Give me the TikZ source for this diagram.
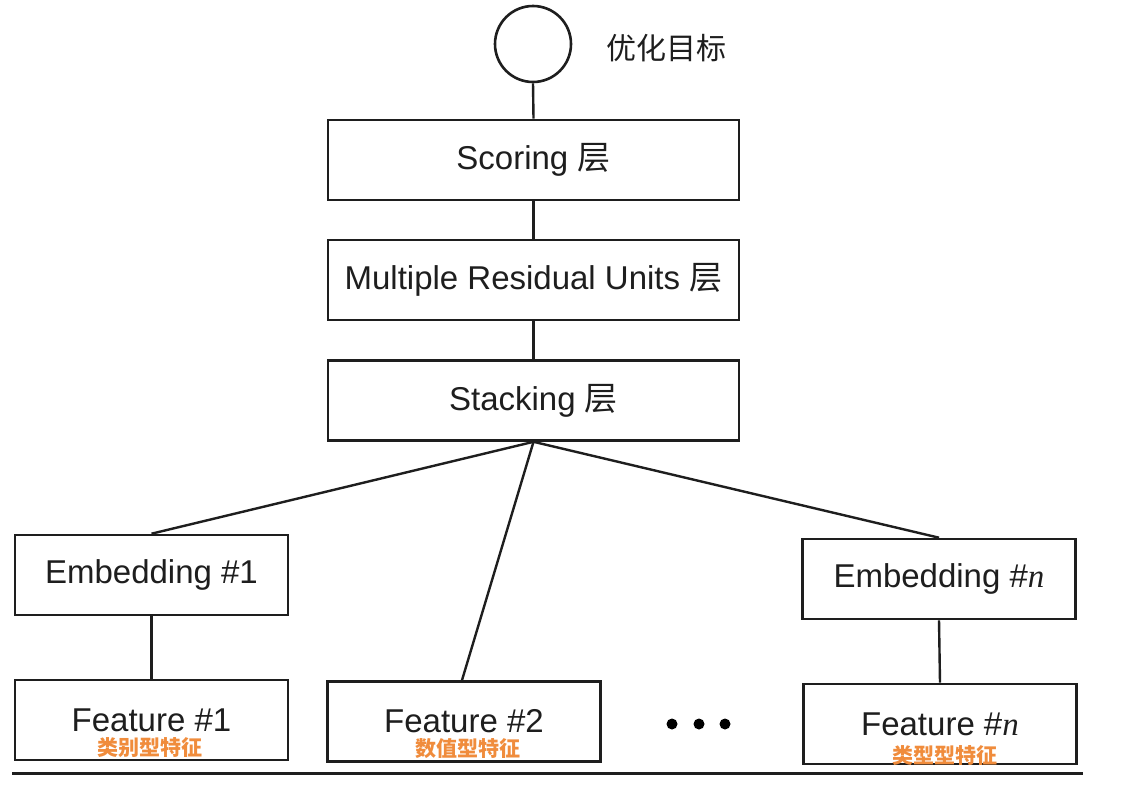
\documentclass[tikz,border=0pt]{standalone}
\usepackage{fontspec}
\setmainfont{Liberation Sans}
\newfontfamily\cjk{Noto Sans CJK SC}
\newfontfamily\serifit{Liberation Serif}
\definecolor{labelorange}{RGB}{240,140,60}
\definecolor{inkline}{RGB}{30,30,30}
\begin{document}
\begin{tikzpicture}[x=1pt,y=-1pt,
  layerbox/.style={draw=inkline,line width=2.6pt,minimum width=411pt,minimum height=80pt,inner sep=0pt,font=\fontsize{33}{38}\selectfont,text=inkline},
  featbox/.style={draw=inkline,line width=2.6pt,minimum width=273pt,minimum height=80pt,inner sep=0pt,font=\fontsize{33}{38}\selectfont,text=inkline},
  conn/.style={draw=inkline,line width=2.4pt},
  tag/.style={text=labelorange,font=\cjk\bfseries\fontsize{21}{24}\selectfont,inner sep=0pt},
  dot/.style={circle,fill=black,inner sep=0pt,minimum size=11pt}]
\useasboundingbox (0,0) rectangle (1126,790);
\fill[white] (0,0) rectangle (1126,790);
% target
\node[draw=inkline,line width=2.6pt,circle,minimum size=76pt,inner sep=0pt] (goal) at (533,44) {};
\node[font=\cjk\fontsize{30}{34}\selectfont,text=inkline] (goallab) at (666,48) {优化目标};
% stacked layers
\node[layerbox] (score) at (533.5,160) {Scoring {\cjk 层}};
\node[layerbox] (mru) at (533.5,280) {Multiple Residual Units {\cjk 层}};
\node[layerbox] (stack) at (533.5,400.5) {Stacking {\cjk 层}};
% embeddings
\node[featbox] (emb1) at (151.5,575) {Embedding \#1};
\node[featbox] (embn) at (939,579) {Embedding \#{\serifit\itshape n}};
% features
\node[featbox] (feat1) at (151.5,720) {Feature \#1};
\node[featbox] (feat2) at (464,721.5) {Feature \#2};
\node[featbox] (featn) at (940,724) {Feature \#{\serifit\itshape n}};
\node[tag] (tag1) at (150,748) {类别型特征};
\node[tag] (tag2) at (468,749) {数值型特征};
\node[tag] (tagn) at (945,755) {类型型特征};
% dots
\node[dot] (d1) at (672,724) {};
\node[dot] (d2) at (699,724) {};
\node[dot] (d3) at (725,724) {};
% connectors
\draw[conn] (goal.south) -- (score.north);
\draw[conn] (score.south) -- (mru.north);
\draw[conn] (mru.south) -- (stack.north);
\draw[conn] (stack.south) -- (emb1.north);
\draw[conn] (stack.south) -- (feat2.north -| 462,0);
\draw[conn] (stack.south) -- (embn.north);
\draw[conn] (emb1.south) -- (feat1.north);
\draw[conn] (embn.south) -- (featn.north);
% base rule
\coordinate (ruleL) at (12,773);
\coordinate (ruleR) at (1083,773);
\draw[draw=inkline,line width=3pt] (ruleL) -- (ruleR);
\end{tikzpicture}
\end{document}
